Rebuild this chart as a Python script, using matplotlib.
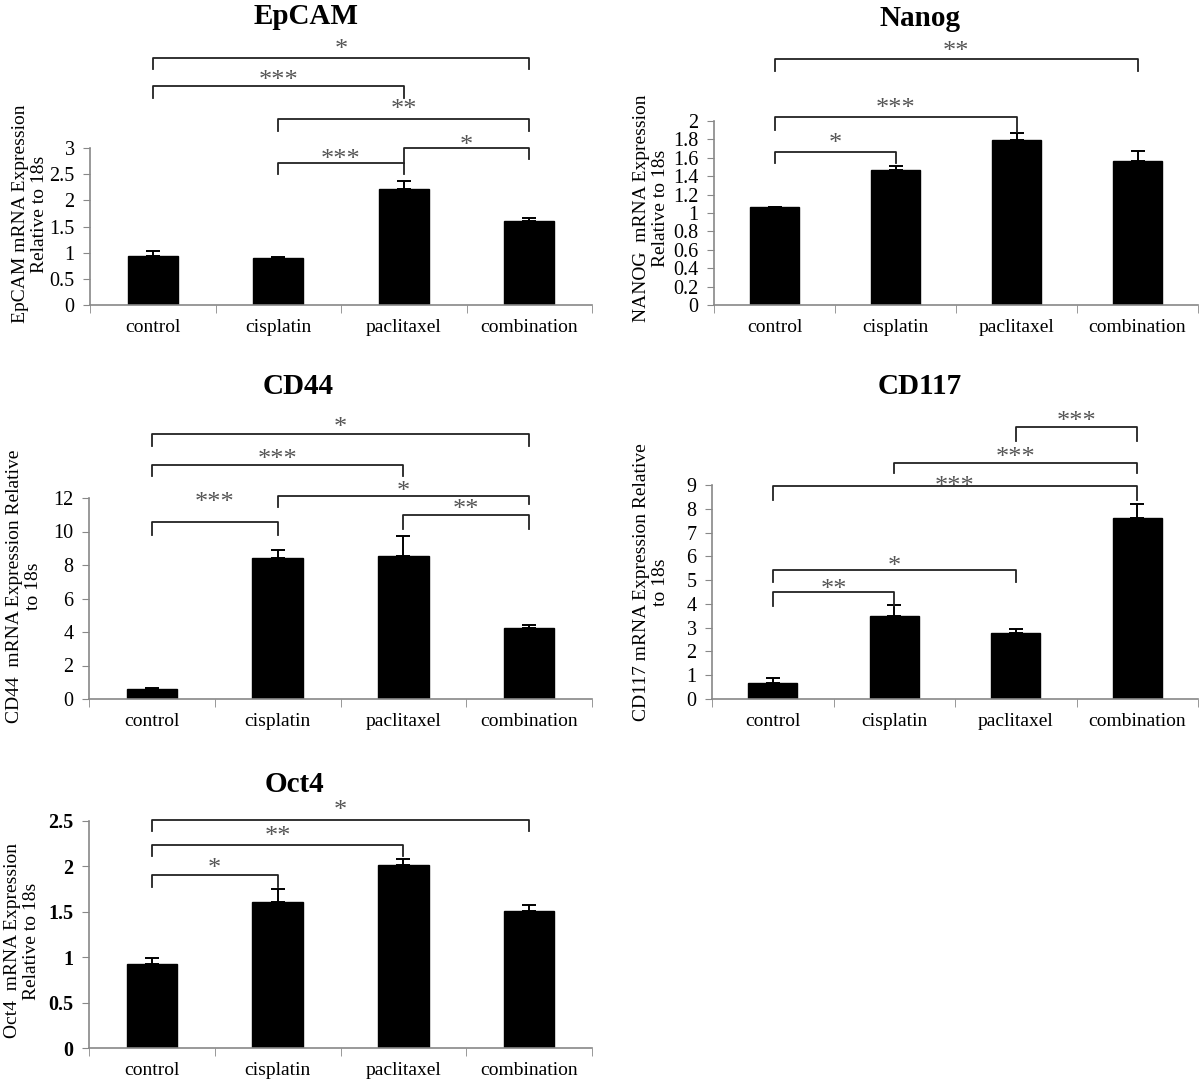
import numpy as np
import matplotlib
matplotlib.use("Agg")
import matplotlib.pyplot as plt

plt.rcParams["font.family"] = ["Liberation Serif", "DejaVu Serif"]

W, H = 1200, 1087

categories = ["control", "cisplatin", "paclitaxel", "combination"]

epcam_mean = [0.93, 0.90, 2.22, 1.61]
epcam_err = [0.11, 0.02, 0.14, 0.05]
nanog_mean = [1.06, 1.47, 1.79, 1.56]
nanog_err = [0.0, 0.04, 0.08, 0.11]
cd44_mean = [0.60, 8.41, 8.51, 4.25]
cd44_err = [0.08, 0.46, 1.25, 0.15]
cd117_mean = [0.69, 3.51, 2.79, 7.60]
cd117_err = [0.18, 0.45, 0.14, 0.60]
oct4_mean = [0.93, 1.61, 2.02, 1.51]
oct4_err = [0.06, 0.14, 0.06, 0.07]

# significance brackets: (left, right, line y, left end y, right end y, stars, star y)
epcam_sig = [(0, 3, 4.72, 4.51, 4.51, "*", 4.97),
             (0, 2, 4.19, 3.96, 3.96, "***", 4.39),
             (1, 3, 3.56, 3.33, 3.33, "**", 3.83),
             (1, 2, 2.71, 2.50, 2.50, "***", 2.88),
             (2, 3, 3.00, 2.72, 2.79, "*", 3.14)]
nanog_sig = [(0, 3, 2.67, 2.54, 2.54, "**", 2.81),
             (0, 2, 2.04, 1.90, 1.88, "***", 2.19),
             (0, 1, 1.66, 1.54, 1.54, "*", 1.81)]
cd44_sig = [(0, 3, 15.8, 15.1, 15.1, "*", 16.5),
            (0, 2, 14.0, 13.3, 13.3, "***", 14.6),
            (1, 3, 12.1, 11.45, 11.65, "*", 12.7),
            (2, 3, 11.0, 10.16, 10.16, "**", 11.6),
            (0, 1, 10.56, 9.82, 9.82, "***", 12.04)]
cd117_sig = [(2, 3, 11.42, 10.83, 10.83, "***", 11.88),
             (1, 3, 9.94, 9.50, 9.50, "***", 10.36),
             (0, 3, 8.96, 8.37, 8.37, "***", 9.14),
             (0, 2, 5.43, 4.90, 4.90, "*", 5.80),
             (0, 1, 4.52, 3.91, 3.91, "**", 4.80)]
oct4_sig = [(0, 3, 2.51, 2.39, 2.39, "*", 2.67),
            (0, 2, 2.24, 2.11, 2.11, "**", 2.38),
            (0, 1, 1.90, 1.77, 1.77, "*", 2.03)]


def add_panel(fig, box, means, errs, ymax, ystep, sig, bold_ticks=False):
    left, right, y0, ytop = box
    ax = fig.add_axes([left / W, 1 - y0 / H, (right - left) / W, (y0 - ytop) / H])
    x = np.arange(len(categories))
    ax.bar(x, means, width=0.4, color="black", edgecolor="black", zorder=2)
    ax.errorbar(x, means, yerr=[np.zeros(len(errs)), errs], fmt="none",
                ecolor="black", elinewidth=1.4, capsize=5, capthick=1.4, zorder=3)

    ax.set_xlim(-0.5, len(categories) - 0.5)
    ax.set_ylim(0, ymax)
    ticks = np.round(np.arange(0, ymax + ystep / 2, ystep), 2)
    ax.set_yticks(ticks)
    ax.set_yticklabels([f"{t:g}" for t in ticks], fontsize=14.5,
                       fontweight="bold" if bold_ticks else "normal")
    ax.set_xticks(x)
    ax.set_xticklabels(categories, fontsize=14)
    ax.set_xticks(np.arange(-0.5, len(categories)), minor=True)
    ax.tick_params(axis="x", which="major", length=0, pad=10)
    ax.tick_params(axis="x", which="minor", length=6, color="#888888", direction="out")
    ax.tick_params(axis="y", length=5, color="#888888", direction="out", pad=6)

    for s in ["top", "right"]:
        ax.spines[s].set_visible(False)
    for s in ["left", "bottom"]:
        ax.spines[s].set_color("#888888")
        ax.spines[s].set_linewidth(1.2)

    for i, j, yl, yi, yj, stars, ys in sig:
        ax.plot([i, i, j, j], [yi, yl, yl, yj], color="#222222", lw=1.3,
                clip_on=False, zorder=4)
        ax.annotate(stars, xy=((i + j) / 2, ys), xytext=(0, -4),
                    textcoords="offset points", ha="center", va="center",
                    fontsize=19, color="#555555", annotation_clip=False)
    return ax


def fig_text(fig, x, y, s, **kw):
    fig.text(x / W, 1 - y / H, s, **kw)


fig = plt.figure(figsize=(W / 100, H / 100), dpi=100)

add_panel(fig, (90, 592, 305, 148), epcam_mean, epcam_err, 3, 0.5, epcam_sig)
add_panel(fig, (714, 1198, 305, 121), nanog_mean, nanog_err, 2, 0.2, nanog_sig)
add_panel(fig, (89, 592, 699, 498), cd44_mean, cd44_err, 12, 2, cd44_sig)
add_panel(fig, (712, 1198, 699, 485), cd117_mean, cd117_err, 9, 1, cd117_sig)
add_panel(fig, (89, 592, 1048, 821), oct4_mean, oct4_err, 2.5, 0.5, oct4_sig, bold_ticks=True)

title_kw = dict(ha="center", va="center", fontsize=21, fontweight="bold")
fig_text(fig, 306, 17, "EpCAM", **title_kw)
fig_text(fig, 920, 19, "Nanog", **title_kw)
fig_text(fig, 298, 386, "CD44", **title_kw)
fig_text(fig, 920, 386, "CD117", **title_kw)
fig_text(fig, 294, 784, "Oct4", **title_kw)

label_kw = dict(ha="center", va="center", rotation=90, fontsize=14,
                multialignment="center", linespacing=1.2)
fig_text(fig, 30, 214, "EpCAM mRNA Expression\nRelative to 18s", **label_kw)
fig_text(fig, 651, 208, "NANOG  mRNA Expression\nRelative to 18s", **label_kw)
fig_text(fig, 24, 586, "CD44  mRNA Expression Relative\nto 18s", **label_kw)
fig_text(fig, 651, 582, "CD117 mRNA Expression Relative\nto 18s", **label_kw)
fig_text(fig, 22, 941, "Oct4  mRNA Expression\nRelative to 18s", **label_kw)

fig.savefig("out.png", dpi=100, facecolor="white")
